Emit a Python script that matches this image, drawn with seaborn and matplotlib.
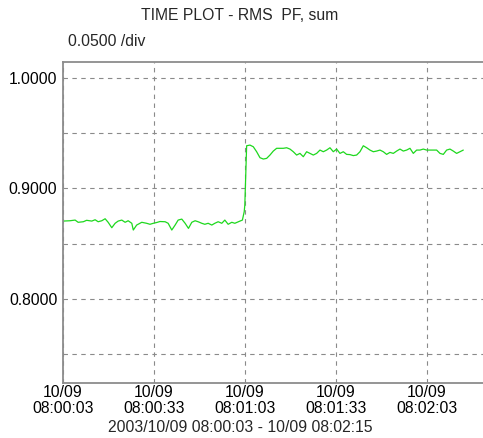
#!/usr/bin/env python

import pandas as pd
import seaborn as sns
from matplotlib import pyplot as plt

# seconds after 08:00:03, and RMS power factor
seconds = [
    0.0, 2.3, 4.0, 5.0, 6.7, 7.8, 9.5, 10.6, 11.6, 12.8, 13.9, 14.9, 16.1, 17.2,
    18.2, 19.4, 20.5, 21.5, 22.7, 23.2, 24.3, 26.0, 27.6, 28.7, 29.8, 30.9, 32.0,
    33.7, 34.7, 35.9, 37.0, 38.0, 39.2, 40.3, 41.4, 42.5, 43.6, 44.6, 45.8, 46.8,
    47.9, 49.1, 50.1, 51.2, 52.4, 53.4, 54.5, 55.7, 56.7, 58.4, 59.2, 59.8, 60.0,
    60.6, 61.7, 62.8, 63.9, 65.0, 66.1, 67.2, 68.3, 69.4, 70.5, 71.6, 72.7, 73.8,
    74.9, 76.0, 77.1, 78.2, 79.3, 80.4, 81.5, 82.6, 83.7, 84.8, 85.9, 87.0, 88.1,
    89.2, 90.3, 91.4, 92.5, 93.6, 94.7, 95.8, 96.9, 98.0, 99.1, 100.2, 101.3,
    102.4, 103.5, 104.6, 105.7, 106.8, 107.9, 109.0, 110.1, 111.2, 112.3, 113.4,
    114.5, 115.6, 116.7, 117.8, 118.9, 120.0, 121.1, 122.2, 123.3, 124.4, 125.5,
    126.6, 127.7, 128.8, 129.9, 131.0, 132.1,
]
pf_sum = [
    0.8704, 0.8707, 0.8713, 0.8693, 0.8698, 0.8711, 0.8704, 0.8716, 0.8698,
    0.8707, 0.8725, 0.8693, 0.8644, 0.8684, 0.8704, 0.8713, 0.8693, 0.8707,
    0.8684, 0.8623, 0.8668, 0.8693, 0.8684, 0.8675, 0.8684, 0.8691, 0.8700,
    0.8698, 0.8684, 0.8623, 0.8668, 0.8713, 0.8722, 0.8684, 0.8638, 0.8693,
    0.8707, 0.8698, 0.8684, 0.8675, 0.8684, 0.8668, 0.8684, 0.8698, 0.8684,
    0.8713, 0.8675, 0.8693, 0.8684, 0.8704, 0.8713, 0.8789, 0.8849,
    0.9385, 0.9391, 0.9376, 0.9331, 0.9277, 0.9265, 0.9271, 0.9301, 0.9337,
    0.9362, 0.9362, 0.9362, 0.9367, 0.9355, 0.9331, 0.9301, 0.9316, 0.9286,
    0.9331, 0.9316, 0.9301, 0.9316, 0.9346, 0.9331, 0.9346, 0.9367, 0.9331,
    0.9355, 0.9316, 0.9331, 0.9307, 0.9305, 0.9296, 0.9301, 0.9331, 0.9385,
    0.9367, 0.9346, 0.9331, 0.9337, 0.9346, 0.9331, 0.9307, 0.9325, 0.9316,
    0.9337, 0.9355, 0.9337, 0.9346, 0.9362, 0.9316, 0.9346, 0.9346, 0.9355,
    0.9346, 0.9346, 0.9346, 0.9346, 0.9316, 0.9307, 0.9346, 0.9355, 0.9337,
    0.9316, 0.9331, 0.9346,
]

x_ticks = [0, 30, 60, 90, 120]
x_tick_labels = ["10/09\n08:00:03", "10/09\n08:00:33", "10/09\n08:01:03",
                 "10/09\n08:01:33", "10/09\n08:02:03"]
y_ticks = [0.75, 0.80, 0.85, 0.90, 0.95, 1.00]
y_tick_labels = ["", "0.8000", "", "0.9000", "", "1.0000"]

df = pd.DataFrame({"t": seconds, "pf": pf_sum})

sns.set_theme(style="white")
plt.rcParams["font.family"] = ["Liberation Sans", "DejaVu Sans"]

fig = plt.figure(figsize=(4.83, 4.38), dpi=100)
ax = fig.add_axes([63 / 483, 55 / 438, 420 / 483, 321.3 / 438])

sns.lineplot(data=df, x="t", y="pf", ax=ax, color="#1ed81e", linewidth=0.9)

ax.set_xlim(0, 138.6)
ax.set_ylim(0.724, 1.0145)
ax.set_xticks(x_ticks)
ax.set_xticklabels(x_tick_labels, fontsize=11.3, linespacing=1.05)
ax.set_yticks(y_ticks)
ax.set_yticklabels(y_tick_labels, fontsize=11.3)
ax.tick_params(axis="both", length=0, colors="black")
ax.tick_params(axis="x", pad=1.5)
ax.tick_params(axis="y", pad=4)
ax.set_xlabel("")
ax.set_ylabel("")

ax.grid(True, color="#8a8a8a", linestyle=(0, (4, 4)), linewidth=0.8)
for side in ["left", "top", "bottom"]:
    ax.spines[side].set_color("#8c8c8c")
    ax.spines[side].set_linewidth(1.3)
ax.spines["right"].set_visible(False)

fig.text(240 / 483, 1 - 15 / 438, "TIME PLOT - RMS  PF, sum", ha="center",
         va="center", fontsize=11.3)
fig.text(68 / 483, 1 - 42 / 438, "0.0500 /div", ha="left", va="center",
         fontsize=11.3)
fig.text(240 / 483, 1 - 427 / 438, "2003/10/09 08:00:03 - 10/09 08:02:15",
         ha="center", va="center", fontsize=11.3)

fig.savefig("out.png", dpi=100)
